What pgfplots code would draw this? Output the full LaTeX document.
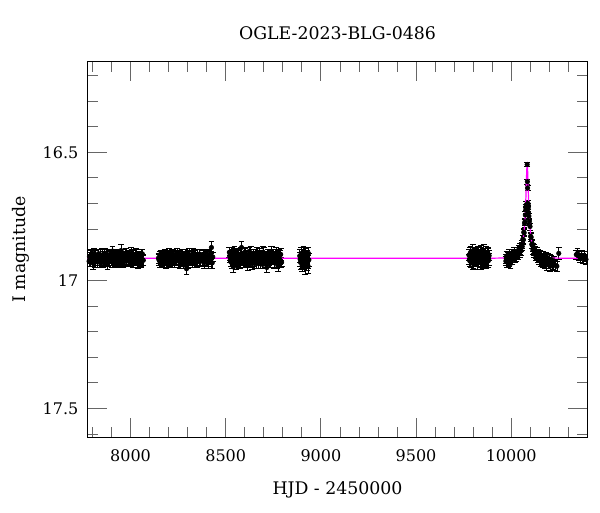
\documentclass[border=0pt]{standalone}
\usepackage{fontspec}
\setmainfont{DejaVu Serif}
\usepackage{pgfplots}
\pgfplotsset{compat=1.18}
\usepackage{pgfplotstable}
\definecolor{modelcol}{RGB}{255,0,255}

\pgfplotstableread{
x y e
7782 16.926 .018
7787 16.906 .022
7792 16.917 .016
7797 16.899 .020
7802 16.933 .024
7807 16.910 .017
7812 16.921 .019
7817 16.903 .021
7822 16.914 .015
7827 16.928 .023
7832 16.896 .018
7837 16.919 .022
7842 16.912 .016
7847 16.924 .020
7852 16.901 .024
7857 16.931 .017
7862 16.908 .019
7867 16.922 .021
7872 16.894 .015
7877 16.916 .023
7882 16.927 .018
7887 16.905 .022
7892 16.918 .016
7897 16.898 .020
7902 16.925 .024
7905 16.886 .020
7907 16.913 .017
7912 16.920 .019
7917 16.902 .021
7922 16.930 .015
7927 16.907 .023
7932 16.923 .018
7937 16.911 .022
7942 16.929 .016
7947 16.900 .020
7950 16.884 .024
7952 16.915 .024
7957 16.904 .017
7962 16.932 .019
7967 16.909 .021
7972 16.917 .015
7977 16.897 .023
7982 16.908 .018
7987 16.925 .022
7992 16.900 .016
7997 16.918 .020
8002 16.923 .024
8007 16.895 .017
8012 16.929 .019
8017 16.912 .021
8022 16.921 .015
8027 16.904 .023
8032 16.915 .018
8037 16.930 .022
8042 16.902 .016
8047 16.920 .020
8052 16.910 .024
8057 16.927 .017
8062 16.897 .019
8067 16.922 .021
7784 16.908 .017
7789 16.925 .019
7794 16.900 .021
7799 16.918 .015
7804 16.923 .023
7809 16.895 .018
7814 16.929 .022
7819 16.912 .016
7824 16.921 .020
7829 16.904 .024
7834 16.915 .017
7839 16.930 .019
7844 16.902 .021
7849 16.920 .015
7854 16.910 .023
7859 16.927 .018
7864 16.897 .022
7869 16.922 .016
7874 16.906 .020
7879 16.933 .024
7884 16.913 .017
7889 16.924 .019
7894 16.899 .021
7899 16.917 .015
7904 16.926 .023
7909 16.903 .018
7914 16.919 .022
7919 16.907 .016
7924 16.931 .020
7929 16.911 .024
7934 16.916 .017
7939 16.901 .019
7944 16.928 .021
7949 16.905 .015
7954 16.922 .023
7959 16.896 .018
7964 16.920 .022
7969 16.925 .016
7974 16.909 .020
7979 16.914 .024
7984 16.902 .017
7989 16.922 .019
7994 16.911 .021
7999 16.929 .015
8004 16.895 .023
8009 16.918 .018
8014 16.907 .022
8019 16.925 .016
8024 16.914 .020
8029 16.900 .024
8034 16.932 .017
8039 16.909 .019
8044 16.916 .021
8049 16.904 .015
8054 16.927 .023
8059 16.897 .018
8064 16.920 .022
}\seasonA

\pgfplotstableread{
x y e
8147 16.913 .020
8152 16.924 .024
8157 16.899 .017
8162 16.917 .019
8167 16.926 .021
8172 16.903 .015
8177 16.919 .023
8182 16.907 .018
8187 16.931 .022
8192 16.911 .016
8197 16.916 .020
8202 16.901 .024
8207 16.928 .017
8212 16.905 .019
8217 16.922 .021
8222 16.896 .015
8227 16.920 .023
8232 16.925 .018
8237 16.909 .022
8242 16.914 .016
8247 16.908 .020
8252 16.925 .024
8257 16.900 .017
8262 16.918 .019
8267 16.923 .021
8272 16.895 .015
8277 16.929 .023
8282 16.912 .018
8287 16.921 .022
8292 16.904 .016
8294 16.955 .022
8297 16.915 .020
8302 16.930 .024
8307 16.902 .017
8312 16.920 .019
8317 16.910 .021
8322 16.927 .015
8327 16.897 .023
8332 16.922 .018
8337 16.906 .022
8342 16.933 .016
8347 16.927 .020
8352 16.905 .024
8357 16.918 .017
8362 16.898 .019
8367 16.925 .021
8372 16.913 .015
8377 16.920 .023
8382 16.902 .018
8387 16.930 .022
8392 16.907 .016
8397 16.923 .020
8402 16.911 .024
8407 16.929 .017
8412 16.900 .019
8417 16.915 .021
8422 16.904 .015
8425 16.872 .022
8427 16.932 .023
8432 16.909 .018
8149 16.920 .021
8154 16.903 .015
8159 16.928 .023
8164 16.910 .018
8169 16.905 .022
8174 16.933 .016
8179 16.899 .020
8184 16.916 .024
8189 16.907 .017
8194 16.924 .019
8199 16.913 .021
8204 16.898 .015
8209 16.926 .023
8214 16.908 .018
8219 16.918 .022
8224 16.901 .016
8229 16.931 .020
8234 16.906 .024
8239 16.922 .017
8244 16.895 .019
8249 16.915 .021
8254 16.904 .015
8259 16.929 .023
8264 16.911 .018
8269 16.902 .022
8274 16.925 .016
8279 16.909 .020
8284 16.921 .024
8289 16.897 .017
8295 16.917 .019
8299 16.912 .021
8304 16.927 .015
8309 16.900 .023
8314 16.923 .018
8319 16.906 .022
8324 16.932 .016
8329 16.908 .020
8334 16.903 .024
8339 16.919 .017
8344 16.914 .019
8349 16.927 .021
8354 16.905 .015
8359 16.918 .023
8364 16.898 .018
8369 16.925 .022
8374 16.913 .016
8379 16.920 .020
8384 16.902 .024
8389 16.930 .017
8394 16.907 .019
8399 16.923 .021
8404 16.911 .015
8409 16.929 .023
8414 16.900 .018
8419 16.915 .022
8424 16.904 .016
8429 16.932 .020
}\seasonB

\pgfplotstableread{
x y e
8519 16.891 .021
8524 16.917 .015
8529 16.906 .023
8534 16.936 .018
8539 16.900 .022
8540 16.948 .022
8544 16.914 .016
8549 16.895 .020
8554 16.933 .024
8559 16.909 .017
8564 16.925 .019
8569 16.904 .021
8574 16.934 .015
8579 16.897 .023
8583 16.872 .022
8584 16.921 .018
8589 16.912 .022
8594 16.927 .016
8599 16.892 .020
8604 16.918 .024
8609 16.901 .017
8614 16.930 .019
8619 16.916 .021
8624 16.887 .015
8629 16.923 .023
8634 16.905 .018
8639 16.935 .022
8644 16.896 .016
8649 16.926 .020
8654 16.910 .024
8659 16.920 .017
8664 16.890 .019
8669 16.931 .021
8674 16.913 .015
8679 16.899 .023
8684 16.922 .018
8689 16.908 .022
8694 16.938 .016
8699 16.893 .020
8704 16.917 .024
8709 16.903 .017
8714 16.929 .019
8716 16.950 .020
8719 16.913 .021
8724 16.906 .015
8729 16.927 .023
8734 16.921 .018
8739 16.890 .022
8744 16.923 .016
8749 16.901 .020
8754 16.931 .024
8759 16.896 .017
8764 16.916 .019
8769 16.909 .021
8774 16.935 .015
8775 16.945 .022
8779 16.904 .023
8784 16.920 .018
8789 16.899 .022
8794 16.929 .016
8521 16.905 .016
8526 16.927 .020
8531 16.895 .024
8536 16.918 .017
8541 16.925 .019
8546 16.888 .021
8551 16.932 .015
8556 16.910 .023
8561 16.922 .018
8566 16.900 .022
8571 16.914 .016
8576 16.934 .020
8581 16.897 .024
8586 16.921 .017
8591 16.908 .019
8596 16.930 .021
8601 16.891 .015
8606 16.923 .023
8611 16.903 .018
8616 16.938 .022
8621 16.912 .016
8626 16.926 .020
8631 16.893 .024
8636 16.917 .017
8641 16.929 .019
8646 16.899 .021
8651 16.919 .015
8656 16.904 .023
8661 16.935 .018
8666 16.909 .022
8671 16.916 .016
8676 16.896 .020
8681 16.931 .024
8686 16.901 .017
8691 16.923 .019
8696 16.890 .021
8701 16.921 .015
8706 16.927 .023
8711 16.906 .018
8717 16.913 .022
8721 16.897 .016
8726 16.923 .020
8731 16.909 .024
8736 16.932 .017
8741 16.888 .019
8746 16.918 .021
8751 16.904 .015
8756 16.927 .023
8761 16.913 .018
8766 16.895 .022
8771 16.936 .016
8776 16.906 .020
8781 16.916 .024
8786 16.900 .017
8791 16.930 .019
}\seasonC

\pgfplotstableread{
x y e
8889 16.905 .025
8891 16.918 .026
8893 16.930 .028
8897 16.895 .024
8899 16.928 .025
8901 16.940 .026
8905 16.915 .025
8907 16.932 .027
8909 16.888 .022
8913 16.925 .027
8915 16.898 .025
8917 16.950 .026
8921 16.900 .024
8923 16.915 .026
8925 16.935 .025
8929 16.910 .026
8931 16.928 .025
8933 16.945 .028
8935 16.895 .024
8937 16.920 .024
}\seasonD

\pgfplotstableread{
x y e
9778 16.902 .022
9782 16.924 .020
9786 16.892 .024
9790 16.915 .021
9794 16.922 .023
9798 16.885 .025
9802 16.930 .022
9806 16.907 .020
9810 16.919 .024
9814 16.897 .021
9818 16.911 .023
9822 16.931 .025
9826 16.894 .022
9830 16.918 .020
9834 16.905 .024
9838 16.927 .021
9842 16.888 .023
9846 16.920 .025
9850 16.900 .022
9854 16.935 .020
9858 16.909 .024
9862 16.923 .021
9866 16.891 .023
9870 16.914 .025
9874 16.926 .022
9878 16.896 .020
9882 16.917 .024
9780 16.918 .021
9784 16.896 .024
9788 16.928 .020
9792 16.905 .023
9796 16.898 .025
9800 16.935 .022
9804 16.891 .021
9808 16.913 .024
9812 16.901 .020
9816 16.923 .023
9820 16.909 .025
9824 16.889 .022
9828 16.926 .021
9832 16.902 .024
9836 16.915 .020
9840 16.893 .023
9844 16.932 .025
9848 16.900 .022
9852 16.920 .021
9856 16.885 .024
9860 16.911 .020
9864 16.897 .023
9868 16.930 .025
9872 16.906 .022
9876 16.894 .021
9880 16.924 .024
9884 16.904 .020
}\seasonE

\pgfplotstableread{
x y e
9972 16.925 .018
9974 16.915 .018
9976 16.905 .016
9980 16.930 .020
9982 16.908 .017
9984 16.918 .017
9988 16.900 .019
9990 16.928 .018
9992 16.922 .016
9996 16.935 .018
9998 16.905 .017
10000 16.912 .017
10004 16.897 .019
10006 16.920 .018
10008 16.916 .016
10012 16.903 .018
10014 16.900 .017
10016 16.890 .017
10020 16.913 .019
10022 16.898 .017
10024 16.895 .016
10028 16.908 .018
10030 16.896 .017
10032 16.888 .017
10036 16.902 .016
10038 16.888 .016
10040 16.880 .018
10044 16.893 .017
10046 16.882 .016
10048 16.872 .016
10050 16.870 .016
10052 16.885 .018
10055 16.860 .015
10058 16.868 .016
10061 16.840 .015
10064 16.842 .016
10066 16.812 .014
10068 16.815 .015
10070 16.778 .014
10072 16.772 .013
10074 16.745 .013
10076 16.715 .012
10077 16.725 .012
10079 16.705 .012
10084 16.548 .008
10085 16.615 .010
10086 16.640 .010
10088 16.700 .012
10089 16.718 .012
10090 16.735 .012
10091 16.710 .012
10093 16.750 .013
10096 16.770 .013
10099 16.790 .014
10102 16.828 .014
10105 16.832 .015
10108 16.860 .015
10111 16.858 .016
10114 16.882 .016
10116 16.870 .016
10118 16.876 .017
10120 16.885 .017
10122 16.895 .016
10126 16.884 .017
10128 16.898 .017
10130 16.905 .018
10134 16.890 .017
10136 16.902 .018
10138 16.912 .018
10142 16.897 .017
10144 16.908 .018
10146 16.918 .018
10150 16.902 .017
10152 16.920 .018
10155 16.925 .019
10158 16.905 .018
10160 16.912 .018
10163 16.922 .019
10165 16.930 .019
10168 16.915 .018
10170 16.905 .018
10175 16.935 .020
10178 16.928 .019
10180 16.918 .018
10183 16.910 .019
10186 16.940 .020
10189 16.925 .019
10192 16.912 .019
10195 16.935 .020
10198 16.928 .018
10202 16.918 .019
10205 16.945 .020
10208 16.930 .019
10212 16.920 .019
10216 16.942 .020
10220 16.938 .020
10225 16.925 .020
10232 16.942 .020
10240 16.945 .020
10250 16.895 .022
}\seasonF

\pgfplotstableread{
x y e
10342 16.900 .018
10348 16.895 .020
10355 16.905 .018
10362 16.912 .019
10370 16.902 .018
10378 16.915 .020
10386 16.908 .019
10393 16.918 .018
}\seasonG

\pgfplotstableread{
x y
7775 16.914
9884 16.914
9964 16.913
10004 16.909
10024 16.904
10034 16.8985
10044 16.889
10054 16.875
10059 16.856
10064 16.833
10069 16.797
10072 16.765
10074 16.736
10076 16.701
10077 16.681
10078 16.658
10079 16.635
10080 16.610
10081 16.587
10082 16.567
10083 16.553
10084 16.549
10085 16.553
10086 16.567
10087 16.587
10088 16.610
10089 16.635
10090 16.658
10091 16.681
10092 16.701
10094 16.736
10096 16.765
10099 16.797
10104 16.833
10109 16.856
10114 16.875
10124 16.889
10134 16.8985
10144 16.904
10164 16.909
10204 16.913
10284 16.914
10400 16.914
}\model

\begin{document}
\begin{tikzpicture}
\useasboundingbox (-65.8pt,-56pt) rectangle (384.2pt,328pt);
\begin{axis}[
  at={(0,0)}, anchor=south west,
  scale only axis, width=374.7pt, height=281.7pt,
  xmin=7775, xmax=10400, ymin=16.147, ymax=17.613, y dir=reverse,
  xtick={8000,8500,9000,9500,10000},
  minor xtick={7800,7900,8100,8200,8300,8400,8600,8700,8800,8900,9100,9200,9300,9400,9600,9700,9800,9900,10100,10200,10300},
  ytick={16.5,17,17.5},
  minor ytick={16.2,16.3,16.4,16.6,16.7,16.8,16.9,17.1,17.2,17.3,17.4,17.6},
  tick align=inside, xtick pos=both, ytick pos=both,
  major tick length=14.25pt, minor tick length=7.5pt,
  every tick/.style={black!60, line width=0.6pt},
  axis line style={line width=0.8pt},
  scaled x ticks=false, scaled y ticks=false,
  /pgf/number format/1000 sep={},
  /pgf/number format/assume math mode=true,
  tick label style={font=\fontsize{12}{14}\selectfont},
  xticklabel style={yshift=-5.5pt},
  yticklabel style={xshift=-3.5pt},
  title={OGLE-2023-BLG-0486},
  title style={font=\fontsize{13}{16}\selectfont, at={(axis description cs:0.5,1.039)}, anchor=base},
  xlabel={HJD - 2450000},
  xlabel style={font=\fontsize{13}{16}\selectfont, at={(axis description cs:0.5,-0.1518)}, anchor=base},
  ylabel={I magnitude},
  ylabel style={font=\fontsize{13}{16}\selectfont, at={(axis description cs:-0.1237,0.5)}, anchor=base},
  obs/.style={only marks, mark=*, mark size=1.7pt, black,
    error bars/.cd, y dir=both, y explicit,
    error bar style={black, line width=0.55pt},
    error mark options={rotate=90, black, line width=0.55pt, mark size=2.2pt}},
]
\addplot[obs] table[x=x,y=y,y error=e] {\seasonA};
\addplot[obs] table[x=x,y=y,y error=e] {\seasonB};
\addplot[obs] table[x=x,y=y,y error=e] {\seasonC};
\addplot[obs] table[x=x,y=y,y error=e] {\seasonD};
\addplot[obs] table[x=x,y=y,y error=e] {\seasonE};
\addplot[obs] table[x=x,y=y,y error=e] {\seasonF};
\addplot[obs] table[x=x,y=y,y error=e] {\seasonG};
\addplot[modelcol, line width=0.9pt, no markers] table[x=x,y=y] {\model};
\end{axis}
\end{tikzpicture}
\end{document}
